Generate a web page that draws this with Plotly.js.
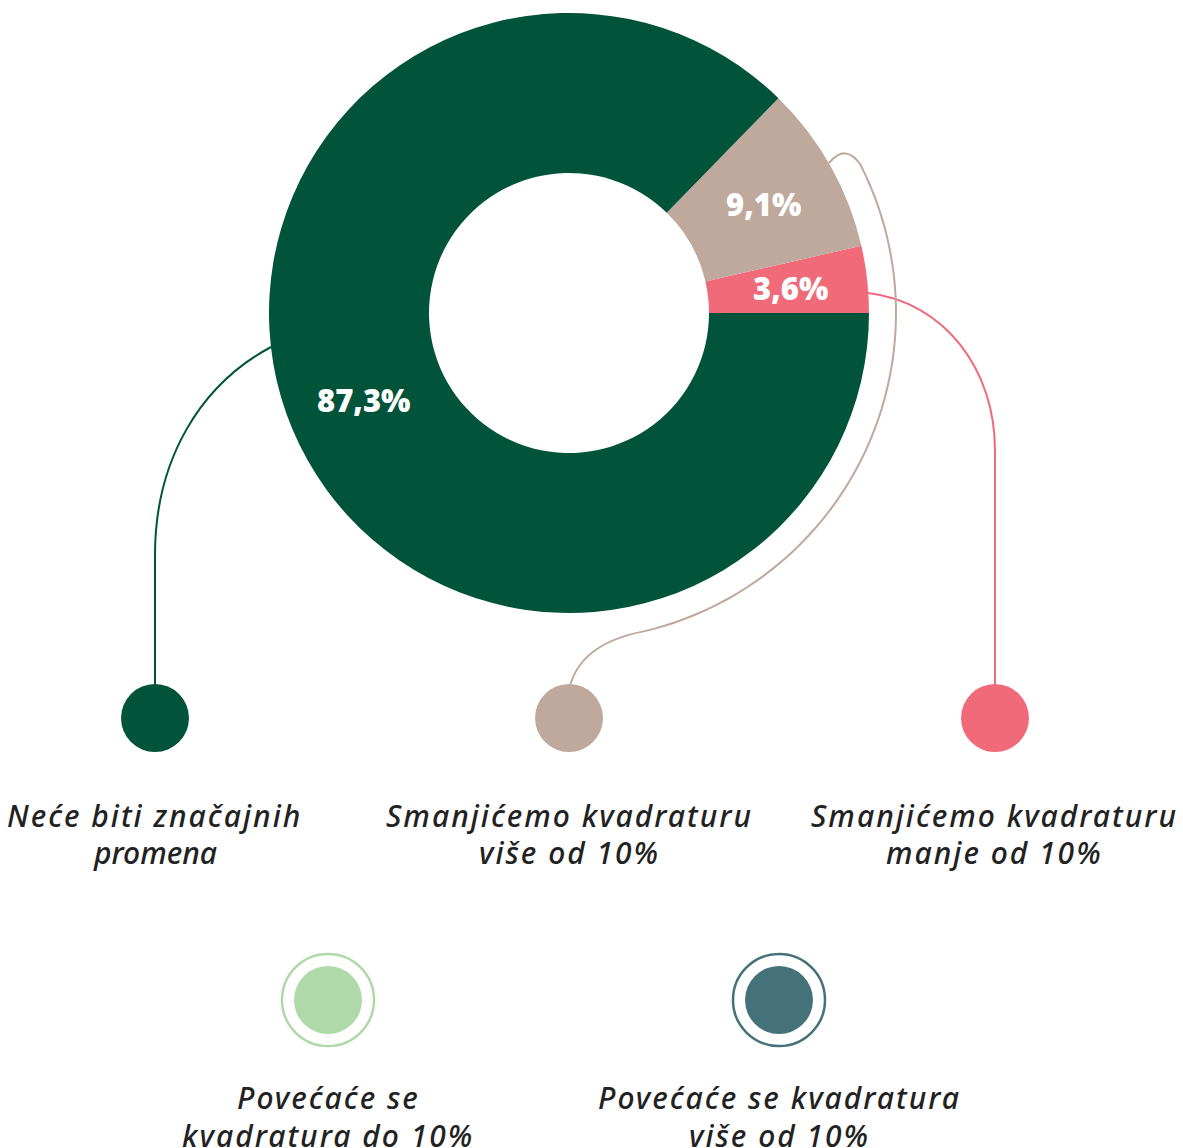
<!DOCTYPE html>
<html>
<head>
<meta charset="utf-8">
<script src="https://cdn.plot.ly/plotly-3.0.1.min.js"></script>
<style>
html,body{margin:0;padding:0;background:#fff;}
#chart{width:1183px;height:1148px;}
.legtxt{letter-spacing:2px;}
</style>
</head>
<body>
<div id="chart"></div>
<script>
// ---- data ----
const categories = [
  "Smanjićemo kvadraturu manje od 10%",
  "Smanjićemo kvadraturu više od 10%",
  "Neće biti značajnih promena",
  "Povećaće se kvadratura do 10%",
  "Povećaće se kvadratura više od 10%"
];
const values = [3.6, 9.1, 87.3, 0, 0];
const colors = ["#F06A7A", "#BFA89C", "#01533A", "#B0D9A9", "#457178"];
const legendLines = [
  ["Smanjićemo kvadraturu", "manje od 10%"],
  ["Smanjićemo kvadraturu", "više od 10%"],
  ["Neće biti značajnih", "promena"],
  ["Povećaće se", "kvadratura do 10%"],
  ["Povećaće se kvadratura", "više od 10%"]
];

// ---- layout geometry (pixels) ----
const W = 1183, H = 1148;
const cx = 569, cy = 313, R = 300, holeR = 140;
const px = x => x / W;
const py = y => 1 - y / H;

const legendPos = [
  {x: 995, y: 718, ring: false},
  {x: 569, y: 718, ring: false},
  {x: 155, y: 718, ring: false},
  {x: 328, y: 1000, ring: true},
  {x: 779, y: 1000, ring: true}
];

const total = values.reduce((a, b) => a + b, 0);

const trace = {
  type: 'pie',
  labels: categories,
  values: values,
  marker: {colors: colors, line: {width: 0}},
  hole: holeR / R,
  sort: false,
  direction: 'counterclockwise',
  rotation: 90 - values[0] / total * 360,
  textinfo: 'none',
  hoverinfo: 'label+percent',
  showlegend: false,
  domain: {x: [px(cx - R), px(cx + R)], y: [py(cy + R), py(cy - R)]}
};

const annotations = [];
const shapes = [];

// percentage labels, positioned from the data
let cum = 0;
values.forEach((v, i) => {
  if (v <= 0) { return; }
  const mid = (cum + v / 2) / total * 2 * Math.PI;
  cum += v;
  const rr = 223;
  annotations.push({
    xref: 'paper', yref: 'paper',
    x: px(cx + rr * Math.cos(mid)), y: py(cy - rr * Math.sin(mid)),
    text: v.toFixed(1).replace('.', ',') + '%',
    showarrow: false,
    font: {family: '"Open Sans", sans-serif', size: 31, color: '#ffffff', weight: 800},
    xanchor: 'center', yanchor: 'middle'
  });
});

// legend markers and labels
legendPos.forEach((p, i) => {
  if (p.ring) {
    shapes.push({type: 'circle', xref: 'paper', yref: 'paper',
      x0: px(p.x - 46), x1: px(p.x + 46), y0: py(p.y + 46), y1: py(p.y - 46),
      line: {color: colors[i], width: 2.5}, fillcolor: 'rgba(0,0,0,0)'});
  }
  shapes.push({type: 'circle', xref: 'paper', yref: 'paper',
    x0: px(p.x - 34), x1: px(p.x + 34), y0: py(p.y + 34), y1: py(p.y - 34),
    line: {width: 0}, fillcolor: colors[i]});
  legendLines[i].forEach((t, k) => {
    annotations.push({
      xref: 'paper', yref: 'paper',
      x: px(p.x), y: py(p.y + 97 + k * 38),
      text: t, showarrow: false,
      font: {family: '"Noto Sans", sans-serif', size: 30, color: '#222222', style: 'italic', weight: 500},
      xanchor: 'center', yanchor: 'middle'
    });
  });
});

// leader lines (paper coords built from pixel points)
function P(x, y) { return px(x).toFixed(5) + ',' + py(y).toFixed(5); }
// green
shapes.push({type: 'path', xref: 'paper', yref: 'paper',
  path: 'M' + P(271, 347) + ' C' + P(200, 385) + ' ' + P(155, 460) + ' ' + P(155, 555) + ' L' + P(155, 686),
  line: {color: colors[2], width: 2}});
// pink
shapes.push({type: 'path', xref: 'paper', yref: 'paper',
  path: 'M' + P(868, 293) + ' C' + P(945, 302) + ' ' + P(995, 370) + ' ' + P(995, 450) + ' L' + P(995, 686),
  line: {color: colors[0], width: 2}});
// beige: hook, arc around the ring, then down to the marker
(function () {
  const ra = 327;
  let d = 'M' + P(829, 163) + ' Q' + P(846, 143) + ' ' + P(cx + ra * Math.cos(27 * Math.PI / 180), cy - ra * Math.sin(27 * Math.PI / 180));
  for (let a = 27; a >= -77; a -= 2) {
    const r = a * Math.PI / 180;
    d += ' L' + P(cx + ra * Math.cos(r), cy - ra * Math.sin(r));
  }
  d += ' C' + P(600, 640) + ' ' + P(577, 660) + ' ' + P(570, 686);
  shapes.push({type: 'path', xref: 'paper', yref: 'paper', path: d,
    line: {color: colors[1], width: 2}});
})();

const layout = {
  width: W, height: H,
  margin: {l: 0, r: 0, t: 0, b: 0},
  paper_bgcolor: '#ffffff',
  showlegend: false,
  annotations: annotations,
  shapes: shapes
};

Plotly.newPlot('chart', [trace], layout, {displayModeBar: false}).then(function (gd) {
  gd.querySelectorAll('.annotation-text').forEach(function (el) {
    if (el.textContent.length > 7) {
      el.classList.add('legtxt');
    }
  });
});
</script>
</body>
</html>
